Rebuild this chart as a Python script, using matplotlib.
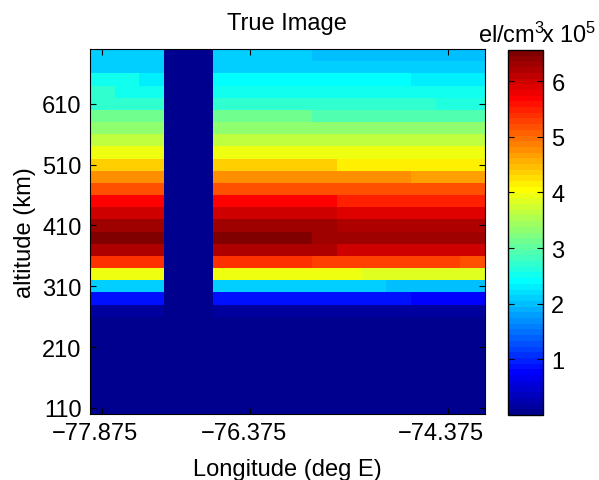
import numpy as np
import matplotlib
matplotlib.use("Agg")
import matplotlib.pyplot as plt
import matplotlib.transforms as mtransforms
from matplotlib.colors import ListedColormap

plt.rcParams['font.family'] = ['Liberation Sans', 'DejaVu Sans']
plt.rcParams['mathtext.default'] = 'regular'
plt.rcParams['font.size'] = 17

# longitude cell centres (deg E) and altitude cell centres (km)
longitude = [-77.875, -77.625, -77.375, -77.125, -76.875, -76.625, -76.375, -76.125,
             -75.875, -75.625, -75.375, -75.125, -74.875, -74.625, -74.375, -74.125]
altitude = [110, 130, 150, 170, 190, 210, 230, 250, 270, 290, 310, 330, 350, 370, 390,
            410, 430, 450, 470, 490, 510, 530, 550, 570, 590, 610, 630, 650, 670, 690]

# electron density, units of 1e5 el/cm^3, one row per altitude (bottom -> top)
density = [
    [0.00] * 16,  # 110
    [0.00] * 16,  # 130
    [0.00] * 16,  # 150
    [0.00] * 16,  # 170
    [0.00] * 16,  # 190
    [0.00] * 16,  # 210
    [0.00] * 16,  # 230
    [0.00] * 16,  # 250
    [0.20, 0.20, 0.20, 0, 0, 0.20, 0.20, 0.20, 0.20, 0.20, 0.20, 0.20, 0.20, 0.20, 0.20, 0.20],  # 270
    [0.85, 0.85, 0.85, 0, 0, 0.85, 0.85, 0.85, 0.85, 0.85, 0.85, 0.85, 0.85, 0.72, 0.72, 0.72],  # 290
    [2.13, 2.13, 2.13, 0, 0, 2.13, 2.13, 2.13, 2.13, 2.13, 2.13, 2.13, 1.97, 1.97, 1.97, 1.97],  # 310
    [3.97, 3.97, 3.97, 0, 0, 3.92, 3.92, 3.92, 3.92, 3.92, 3.92, 3.83, 3.83, 3.83, 3.83, 3.83],  # 330
    [5.33, 5.33, 5.33, 0, 0, 5.33, 5.33, 5.33, 5.33, 5.23, 5.23, 5.23, 5.23, 5.23, 5.23, 5.13],  # 350
    [6.15, 6.15, 6.15, 0, 0, 6.15, 6.15, 6.15, 6.15, 6.15, 6.03, 6.03, 6.03, 6.03, 6.03, 6.03],  # 370
    [6.46, 6.46, 6.46, 0, 0, 6.46, 6.46, 6.46, 6.46, 6.35, 6.35, 6.35, 6.35, 6.35, 6.35, 6.35],  # 390
    [6.35, 6.35, 6.35, 0, 0, 6.35, 6.35, 6.35, 6.35, 6.35, 6.25, 6.25, 6.25, 6.25, 6.25, 6.25],  # 410
    [6.03, 6.03, 6.03, 0, 0, 6.03, 6.03, 6.03, 6.03, 6.03, 5.94, 5.94, 5.94, 5.94, 5.94, 5.94],  # 430
    [5.64, 5.64, 5.64, 0, 0, 5.64, 5.64, 5.64, 5.64, 5.64, 5.53, 5.53, 5.53, 5.53, 5.53, 5.53],  # 450
    [5.13, 5.13, 5.13, 0, 0, 5.13, 5.13, 5.13, 5.13, 5.13, 5.13, 5.13, 5.13, 5.13, 5.13, 5.13],  # 470
    [4.73, 4.73, 4.73, 0, 0, 4.73, 4.73, 4.73, 4.73, 4.73, 4.73, 4.73, 4.73, 4.62, 4.62, 4.62],  # 490
    [4.35, 4.35, 4.35, 0, 0, 4.35, 4.35, 4.35, 4.35, 4.35, 4.20, 4.20, 4.20, 4.20, 4.20, 4.20],  # 510
    [3.99, 3.99, 3.99, 0, 0, 3.99, 3.99, 3.99, 3.99, 3.99, 3.99, 3.94, 3.94, 3.94, 3.94, 3.94],  # 530
    [3.60, 3.60, 3.60, 0, 0, 3.60, 3.60, 3.60, 3.60, 3.60, 3.60, 3.60, 3.60, 3.60, 3.60, 3.60],  # 550
    [3.28, 3.28, 3.28, 0, 0, 3.28, 3.28, 3.28, 3.28, 3.28, 3.28, 3.28, 3.28, 3.28, 3.28, 3.28],  # 570
    [3.08, 3.08, 3.08, 0, 0, 3.08, 3.08, 3.08, 3.08, 2.97, 2.97, 2.97, 2.97, 2.97, 2.97, 2.97],  # 590
    [2.76, 2.76, 2.76, 0, 0, 2.76, 2.76, 2.76, 2.76, 2.76, 2.76, 2.76, 2.76, 2.76, 2.62, 2.62],  # 610
    [2.70, 2.47, 2.47, 0, 0, 2.47, 2.47, 2.47, 2.47, 2.47, 2.47, 2.47, 2.47, 2.47, 2.47, 2.47],  # 630
    [2.46, 2.46, 2.30, 0, 0, 2.40, 2.40, 2.40, 2.40, 2.40, 2.40, 2.40, 2.40, 2.28, 2.28, 2.28],  # 650
    [2.13, 2.13, 2.13, 0, 0, 2.13, 2.13, 2.13, 2.13, 2.13, 2.13, 2.13, 2.13, 2.13, 2.13, 2.13],  # 670
    [2.05, 2.05, 2.05, 0, 0, 2.05, 2.05, 2.05, 2.05, 1.95, 1.95, 1.95, 1.95, 1.95, 1.95, 1.95],  # 690
]

x_ticks = [-77.875, -76.375, -74.375]
y_ticks = [110, 210, 310, 410, 510, 610]
cbar_ticks = [1, 2, 3, 4, 5, 6]
c_max = 6.56


def matlab_jet(m=64):
    """MATLAB style jet(m) colormap"""
    n = int(np.ceil(m / 4))
    u = np.concatenate([np.arange(1, n + 1) / n, np.ones(n - 1), np.arange(n, 0, -1) / n])
    g = int(np.ceil(n / 2)) - (m % 4 == 1) + np.arange(1, len(u) + 1)
    r = g + n
    b = g - n
    J = np.zeros((m, 3))
    rr = r[r <= m]
    J[rr - 1, 0] = u[:len(rr)]
    gg = g[g <= m]
    J[gg - 1, 1] = u[:len(gg)]
    bb = b[b >= 1]
    J[bb - 1, 2] = u[len(u) - len(bb):]
    return ListedColormap(J)


cmap = matlab_jet(64)

fig = plt.figure(figsize=(5.99, 4.81), dpi=100)
ax = fig.add_axes([90 / 599, 66 / 481, 395 / 599, 365 / 481])
cax = fig.add_axes([508 / 599, 65 / 481, 35 / 599, 365 / 481])

mesh = ax.pcolormesh(longitude, altitude, np.array(density), cmap=cmap,
                     vmin=0, vmax=c_max, shading='nearest')
ax.set_xlim(-78, -74)
ax.set_ylim(100, 700)
ax.set_xticks(x_ticks)
ax.set_xticklabels([f"{v:.3f}".replace('-', '\u2212') for v in x_ticks])
ax.set_yticks(y_ticks)
ax.tick_params(direction='in', length=4, top=True, right=True, pad=6)

# MATLAB draws the x tick labels a little left of the ticks
shift = mtransforms.ScaledTranslation(-7 / 100, 0, fig.dpi_scale_trans)
for lab in ax.get_xticklabels():
    lab.set_transform(lab.get_transform() + shift)

ax.set_xlabel('Longitude (deg E)', va='baseline')
ax.xaxis.set_label_coords(0.5, (5 - 66) / 365)
ax.set_ylabel('altitude (km)')
ax.yaxis.set_label_coords((36 - 90) / 395, 0.5)
fig.text(287 / 599, 1 - 30 / 481, 'True Image', ha='center', va='baseline')

cb = fig.colorbar(mesh, cax=cax, ticks=cbar_ticks)
cb.outline.set_linewidth(1)
cax.tick_params(direction='in', length=4, left=True, right=True, pad=6)
cax.set_yticklabels([str(t) for t in cbar_ticks])
fig.text(545 / 599, 1 - 43 / 481, 'el/cm$^{3}$', ha='right', va='baseline')
fig.text(541 / 599, 1 - 43 / 481, 'x 10$^{5}$', ha='left', va='baseline')

plt.savefig('out.png', dpi=100)
